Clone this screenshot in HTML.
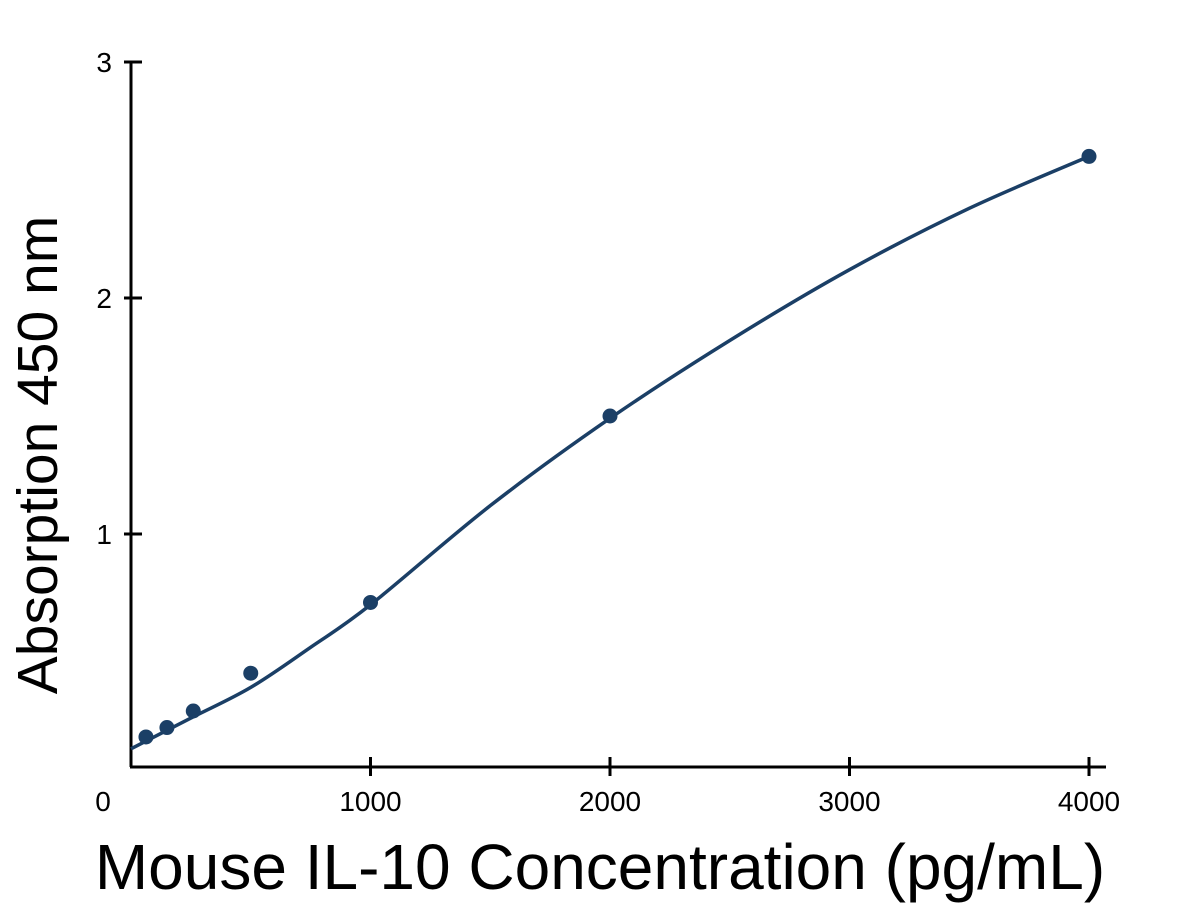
<!DOCTYPE html>
<html><head><meta charset="utf-8"><style>
html,body{margin:0;padding:0;background:#fff;}
svg{display:block;font-family:"Liberation Sans",sans-serif;}
</style></head><body>
<svg id="chart" width="1200" height="912" viewBox="0 0 1200 912" xmlns="http://www.w3.org/2000/svg">
<g id="axes"></g>
<g id="marks"></g>
<text transform="translate(57,455) rotate(-90)" text-anchor="middle" font-size="57" fill="#000">Absorption 450 nm</text>
<text x="600" y="889" text-anchor="middle" font-size="64" fill="#000">Mouse IL-10 Concentration (pg/mL)</text>
</svg>
<script>
const xTicks = [0, 1000, 2000, 3000, 4000];
const xTickLabels = ["0", "1000", "2000", "3000", "4000"];
const yTicks = [1, 2, 3];
const yTickLabels = ["1", "2", "3"];
const pointConc = [62.5, 150, 260, 500, 1000, 2000, 4000];
const pointAbs = [0.14, 0.18, 0.25, 0.41, 0.71, 1.50, 2.60];
const curveConc = [0, 250, 500, 750, 1000, 1500, 2000, 2500, 3000, 3500, 4000];
const curveAbs = [0.09, 0.22, 0.35, 0.52, 0.70, 1.12, 1.49, 1.82, 2.12, 2.38, 2.60];

const NS = "http://www.w3.org/2000/svg";
const X0 = 131, XS = 0.2395, Y0 = 770, YS = 236;
const sx = v => X0 + v * XS;
const sy = v => Y0 - v * YS;
const COLOR = "#1b3f66";
const axes = document.getElementById('axes');
const marks = document.getElementById('marks');
function mk(tag, attrs, parent) {
  const e = document.createElementNS(NS, tag);
  for (const k in attrs) e.setAttribute(k, attrs[k]);
  parent.appendChild(e);
  return e;
}
let e;
e = mk('line', {x1: 131, y1: 61, x2: 131, y2: 767, stroke: '#000', 'stroke-width': 3}, axes);


e = mk('line', {x1: 130, y1: 767, x2: 1106, y2: 767, stroke: '#000', 'stroke-width': 3}, axes);


yTicks.forEach((v, i) => {
  const y = sy(v);
  let t = mk('line', {x1: 124, y1: y, x2: 142, y2: y, stroke: '#000', 'stroke-width': 3}, axes);
  
  
  let l = mk('text', {x: 112, y: y + 10, 'text-anchor': 'end', 'font-size': 28, fill: '#000'}, axes);
  l.textContent = yTickLabels[i];
  
  
});
xTicks.forEach((v, i) => {
  const x = sx(v);
  if (v !== 0) {
    let t = mk('line', {x1: x, y1: 757, x2: x, y2: 776, stroke: '#000', 'stroke-width': 3}, axes);
    
    
  }
  let l = mk('text', {x: v === 0 ? 103 : x, y: 811, 'text-anchor': 'middle', 'font-size': 28, fill: '#000'}, axes);
  l.textContent = xTickLabels[i];
  
  
});
const P = curveConc.map((c, i) => [sx(c), sy(curveAbs[i])]);
let d = `M${P[0][0]},${P[0][1]}`;
for (let i = 0; i < P.length - 1; i++) {
  const p0 = P[Math.max(0, i - 1)], p1 = P[i], p2 = P[i + 1], p3 = P[Math.min(P.length - 1, i + 2)];
  const c1 = [p1[0] + (p2[0] - p0[0]) / 6, p1[1] + (p2[1] - p0[1]) / 6];
  const c2 = [p2[0] - (p3[0] - p1[0]) / 6, p2[1] - (p3[1] - p1[1]) / 6];
  d += ` C${c1[0]},${c1[1]} ${c2[0]},${c2[1]} ${p2[0]},${p2[1]}`;
}
e = mk('path', {d: d, fill: 'none', stroke: COLOR, 'stroke-width': 3.5}, marks);


pointConc.forEach((c, i) => {
  let p = mk('circle', {cx: sx(c), cy: sy(pointAbs[i]), r: 7.5, fill: COLOR}, marks);
  
  
});
</script>
</body></html>
